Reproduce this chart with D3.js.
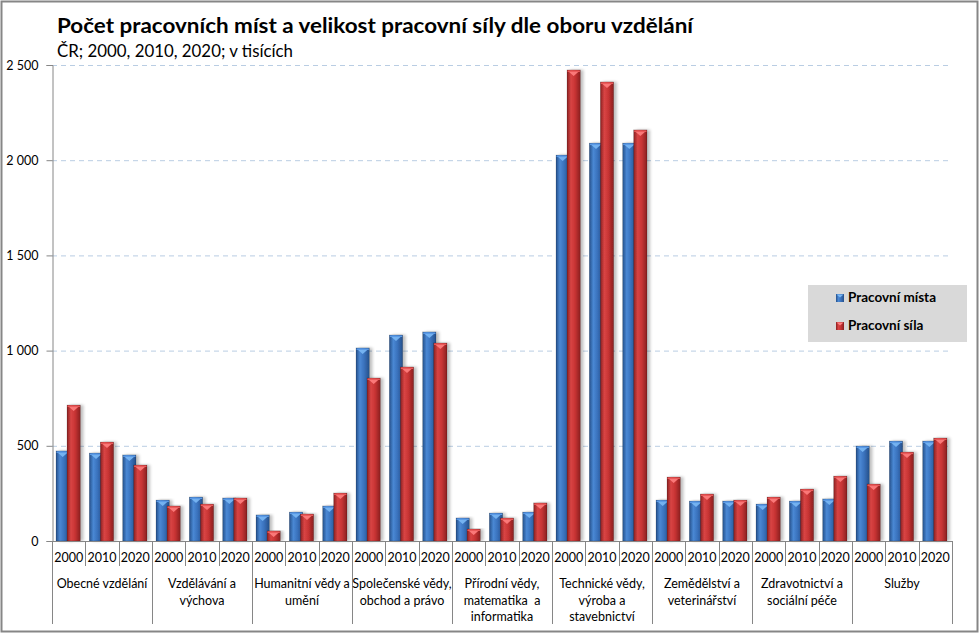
<!DOCTYPE html>
<html><head><meta charset="utf-8">
<script src="https://cdn.jsdelivr.net/npm/d3@7"></script>
<style>
html,body{margin:0;padding:0;background:#fff;}
svg{display:block;font-family:"Lato","Open Sans",sans-serif;}
</style></head>
<body><svg id="c" width="980" height="635"></svg>
<script>
const categories = [
  ["Obecné vzdělání"],
  ["Vzdělávání a","výchova"],
  ["Humanitní vědy a","umění"],
  ["Společenské vědy,","obchod a právo"],
  ["Přírodní vědy,","matematika  a","informatika"],
  ["Technické vědy,","výroba a","stavebnictví"],
  ["Zemědělství a","veterinářství"],
  ["Zdravotnictví a","sociální péče"],
  ["Služby"]
];
const years = ["2000","2010","2020"];
// Pracovní místa (jobs), per category, per year
const mista = [
  [473,462,452],
  [215,231,226],
  [137,152,184],
  [1014,1082,1098],
  [121,147,152],
  [2027,2090,2090],
  [215,210,210],
  [194,210,221],
  [499,525,525]
];
// Pracovní síla (labour force)
const sila = [
  [714,520,399],
  [184,194,226],
  [53,142,252],
  [856,914,1040],
  [63,121,200],
  [2474,2411,2159],
  [336,247,215],
  [231,273,341],
  [299,467,541]
];
const yTicks = [0,500,1000,1500,2000,2500];
const seriesNames = ["Pracovní místa","Pracovní síla"];

const svg = d3.select("#c");
const defs = svg.append("defs");
function grad(id, edge, mid, light){
  const g = defs.append("linearGradient").attr("id",id).attr("x1","0").attr("x2","1").attr("y1","0").attr("y2","0");
  g.append("stop").attr("offset","0").attr("stop-color",edge);
  g.append("stop").attr("offset","0.3").attr("stop-color",light);
  g.append("stop").attr("offset","0.6").attr("stop-color",mid);
  g.append("stop").attr("offset","1").attr("stop-color",edge);
}
grad("gb","#25508a","#3a72bd","#4a88d4");
grad("gr","#8a2020","#c83434","#d84444");
const shadow = defs.append("filter").attr("id","sh").attr("x","-20%").attr("y","-5%").attr("width","160%").attr("height","110%");
shadow.append("feGaussianBlur").attr("in","SourceAlpha").attr("stdDeviation","1.5");
shadow.append("feOffset").attr("dx","3").attr("dy","0").attr("result","ob");
shadow.append("feComponentTransfer").append("feFuncA").attr("type","linear").attr("slope","0.25");
const fm = shadow.append("feMerge"); fm.append("feMergeNode"); fm.append("feMergeNode").attr("in","SourceGraphic");

// outer frame
svg.append("rect").attr("x",1.5).attr("y",1.5).attr("width",976).attr("height",630)
  .attr("fill","#fff").attr("stroke","#868686").attr("stroke-width",2);

// title
svg.append("text").attr("x",57).attr("y",33).attr("font-size",21.5).attr("font-weight","bold").attr("fill","#000")
  .attr("textLength",636).attr("lengthAdjust","spacingAndGlyphs")
  .text("Počet pracovních míst a velikost pracovní síly dle oboru vzdělání");
svg.append("text").attr("x",57).attr("y",57).attr("font-size",17).attr("fill","#000")
  .attr("textLength",236).attr("lengthAdjust","spacingAndGlyphs")
  .text("ČR; 2000, 2010, 2020; v tisících");

const left = 52, right = 952, top0 = 65, bottom = 541;
const y = d3.scaleLinear().domain([0,2500]).range([bottom, top0]);
const x0 = d3.scaleBand().domain(d3.range(categories.length)).range([left,right]).paddingInner(0).paddingOuter(0);
const x1 = d3.scaleBand().domain(years).range([0,x0.bandwidth()]).padding(0);
const loc = d3.formatLocale({decimal:",",thousands:"\u00a0",grouping:[3],currency:["",""]});
const fmt = loc.format(",d");

// gridlines
svg.append("g").selectAll("line").data(yTicks.filter(d=>d>0)).join("line")
  .attr("x1",left).attr("x2",right).attr("y1",d=>y(d)+0.5).attr("y2",d=>y(d)+0.5)
  .attr("stroke","#b9cde3").attr("stroke-width",1).attr("stroke-dasharray","5,4");

// y axis
const ya = svg.append("g").attr("transform",`translate(${left+0.5},0)`)
  .call(d3.axisLeft(y).tickValues(yTicks).tickFormat(fmt).tickSize(6).tickPadding(8));
ya.select(".domain").attr("stroke","#868686");
ya.selectAll(".tick line").attr("stroke","#868686");
ya.selectAll("text").attr("font-size",12.5).attr("fill","#000").attr("font-family","Lato,'Open Sans',sans-serif");
ya.selectAll(".tick").attr("transform",d=>`translate(0,${y(d)+0.5})`);

// bars
const bw = x1.bandwidth();
const barW = bw*0.40;
const cg = svg.append("g");
categories.forEach((c,ci)=>{
  years.forEach((yr,yi)=>{
    const slot = x0(ci)+x1(yr);
    const specs = [
      {v:mista[ci][yi], x:slot+bw*0.12, f:"url(#gb)", hl:"#7ab8f5", top:"#5b9ae6"},
      {v:sila[ci][yi], x:slot+bw*0.45, f:"url(#gr)", hl:"#ff8080", top:"#ea5a5a"}
    ];
    specs.forEach(s=>{
      const g = cg.append("g");
      const yt = y(s.v);
      g.append("rect").attr("x",s.x).attr("y",yt).attr("width",barW).attr("height",bottom-yt)
        .attr("fill",s.f).attr("filter","url(#sh)").attr("stroke","rgba(0,0,0,0.25)").attr("stroke-width",0.6);
      g.append("path").attr("d",`M${s.x+1},${yt+1} L${s.x+barW-1},${yt+1} L${s.x+barW/2},${yt+6} Z`)
        .attr("fill",s.hl).attr("opacity",0.9);
      g.append("rect").attr("x",s.x+0.5).attr("y",yt+0.5).attr("width",barW-1).attr("height",1.5).attr("fill",s.top);
    });
  });
});

// x axis line
svg.append("line").attr("x1",left).attr("x2",right).attr("y1",bottom+0.5).attr("y2",bottom+0.5)
  .attr("stroke","#868686").attr("stroke-width",1.2);
const xg = svg.append("g");
categories.forEach((c,ci)=>{
  years.forEach((yr,yi)=>{
    const sx = x0(ci)+x1(yr);
    if(yi>0){
      xg.append("line").attr("x1",Math.round(sx)+0.5).attr("x2",Math.round(sx)+0.5).attr("y1",bottom).attr("y2",566)
        .attr("stroke","#868686");
    }
    xg.append("text").attr("x",sx+bw/2).attr("y",562).attr("text-anchor","middle").attr("font-size",12.5).attr("fill","#000").text(yr);
  });
});
d3.range(categories.length+1).forEach(i=>{
  const sx = i<categories.length ? x0(i) : right;
  xg.append("line").attr("x1",Math.round(sx)+0.5).attr("x2",Math.round(sx)+0.5).attr("y1",bottom).attr("y2",624)
    .attr("stroke","#868686");
});
categories.forEach((c,ci)=>{
  const t = xg.append("text").attr("text-anchor","middle").attr("font-size",12.5).attr("fill","#000");
  c.forEach((ln,li)=>{
    t.append("tspan").attr("x",x0(ci)+x0.bandwidth()/2).attr("y",588+li*16.5).attr("xml:space","preserve").text(ln);
  });
});

// legend
const lg = svg.append("g");
lg.append("rect").attr("x",808).attr("y",285).attr("width",159).attr("height",57).attr("fill","#d9d9d9");
const lc = [{f:"url(#gb)",hl:"#7ab8f5"},{f:"url(#gr)",hl:"#ff8080"}];
seriesNames.forEach((n,i)=>{
  const yy = 297+i*28;
  lg.append("rect").attr("x",836).attr("y",yy-3).attr("width",8).attr("height",8).attr("fill",lc[i].f);
  lg.append("path").attr("d",`M836.5,${yy-2.5} L843.5,${yy-2.5} L840,${yy+0.5} Z`).attr("fill",lc[i].hl);
  lg.append("text").attr("x",848).attr("y",yy+5).attr("font-size",13.5).attr("font-weight","bold").attr("fill","#000").text(n);
});
</script>
</body></html>
